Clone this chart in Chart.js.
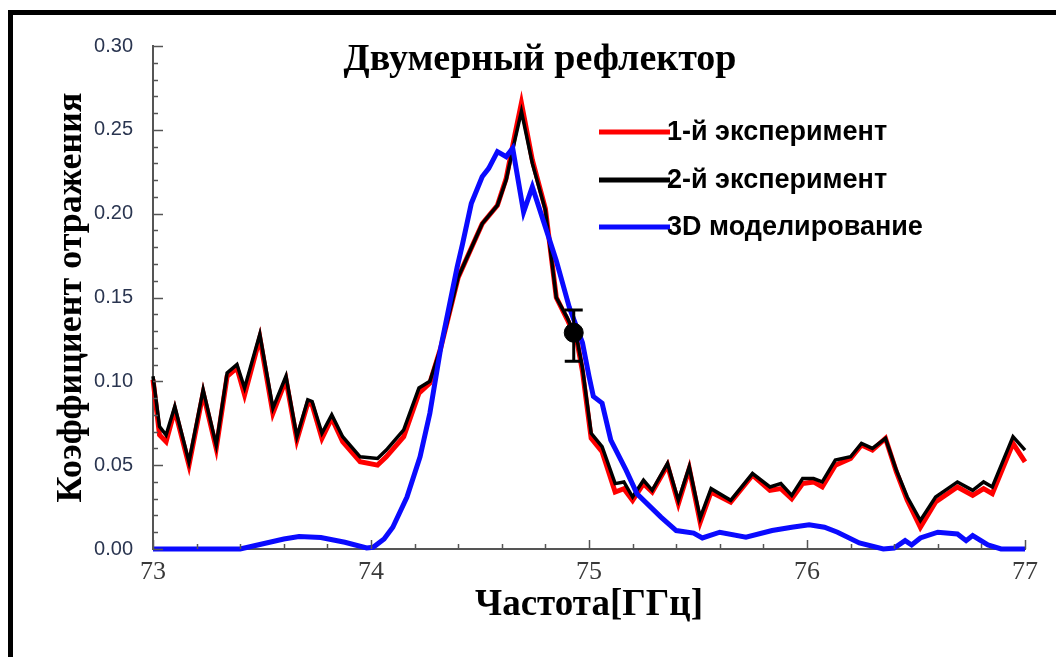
<!DOCTYPE html>
<html>
<head>
<meta charset="utf-8">
<script src="https://cdn.jsdelivr.net/npm/chart.js@4.4.1/dist/chart.umd.min.js"></script>
<style>
    html, body { margin: 0; padding: 0; background: #fff; overflow: hidden; }
    #wrap { position: relative; width: 1056px; height: 657px; overflow: hidden; }
    #wrap canvas { position: absolute; left: 0; top: 0; }
    #frame {
        position: absolute; left: 8px; top: 10px; width: 1100px; height: 700px;
        border: 5px solid #000; box-sizing: border-box; pointer-events: none;
    }
</style>
</head>
<body>
<div id="wrap">
    <canvas id="reflector-chart" width="1056" height="657"></canvas>
    <div id="frame"></div>
</div>
<script>
// measured data, frequency in GHz
const expFreq = [73.00, 73.03, 73.06, 73.10, 73.165, 73.23, 73.29, 73.34, 73.385, 73.42,
    73.49, 73.55, 73.61, 73.66, 73.71, 73.73, 73.775, 73.82, 73.87, 73.95,
    74.03, 74.07, 74.15, 74.22, 74.27, 74.32, 74.40, 74.51, 74.58, 74.62,
    74.66, 74.69, 74.74, 74.80, 74.85, 74.90, 74.945, 74.97, 75.01, 75.06,
    75.12, 75.16, 75.20, 75.25, 75.29, 75.36, 75.41, 75.46, 75.51, 75.56,
    75.65, 75.75, 75.83, 75.88, 75.93, 75.98, 76.03, 76.07, 76.13, 76.20,
    76.25, 76.30, 76.36, 76.41, 76.46, 76.52, 76.59, 76.69, 76.76, 76.81,
    76.85, 76.945, 77.00];

const exp1Refl = [0.101, 0.068, 0.064, 0.083, 0.050, 0.093, 0.060, 0.103, 0.108, 0.092,
    0.126, 0.081, 0.101, 0.065, 0.087, 0.086, 0.066, 0.078, 0.064, 0.052,
    0.050, 0.055, 0.067, 0.093, 0.099, 0.120, 0.162, 0.194, 0.205, 0.221,
    0.247, 0.266, 0.232, 0.203, 0.150, 0.137, 0.124, 0.106, 0.066, 0.058,
    0.034, 0.036, 0.029, 0.039, 0.034, 0.050, 0.027, 0.048, 0.016, 0.034,
    0.028, 0.044, 0.035, 0.036, 0.030, 0.039, 0.040, 0.037, 0.050, 0.054,
    0.062, 0.059, 0.066, 0.046, 0.029, 0.013, 0.028, 0.037, 0.032, 0.036,
    0.033, 0.063, 0.052];

const exp2Refl = [0.103, 0.073, 0.068, 0.085, 0.052, 0.095, 0.062, 0.105, 0.110, 0.096,
    0.128, 0.084, 0.103, 0.067, 0.089, 0.088, 0.069, 0.080, 0.067, 0.055,
    0.054, 0.059, 0.071, 0.096, 0.100, 0.120, 0.162, 0.194, 0.205, 0.220,
    0.244, 0.261, 0.230, 0.202, 0.150, 0.138, 0.125, 0.108, 0.069, 0.061,
    0.039, 0.040, 0.031, 0.041, 0.035, 0.051, 0.029, 0.049, 0.0185, 0.036,
    0.029, 0.045, 0.037, 0.039, 0.032, 0.042, 0.042, 0.040, 0.053, 0.055,
    0.063, 0.060, 0.066, 0.047, 0.031, 0.017, 0.031, 0.040, 0.035, 0.040,
    0.037, 0.067, 0.059];

const simFreq = [73.00, 73.40, 73.50, 73.60, 73.67, 73.77, 73.88, 73.98, 74.01, 74.06,
    74.10, 74.165, 74.225, 74.27, 74.32, 74.395, 74.42, 74.46, 74.51, 74.54,
    74.58, 74.62, 74.65, 74.70, 74.74, 74.79, 74.85, 74.91, 74.97, 75.00,
    75.02, 75.06, 75.10, 75.17, 75.22, 75.33, 75.40, 75.48, 75.52, 75.60,
    75.72, 75.84, 75.93, 76.01, 76.08, 76.14, 76.24, 76.35, 76.40, 76.45,
    76.48, 76.52, 76.60, 76.69, 76.73, 76.76, 76.83, 76.89, 77.00];

const simRefl = [0.000, 0.000, 0.003, 0.006, 0.0075, 0.0068, 0.004, 0.0006, 0.001, 0.006,
    0.013, 0.031, 0.055, 0.081, 0.120, 0.168, 0.182, 0.206, 0.222, 0.227,
    0.237, 0.234, 0.239, 0.201, 0.216, 0.196, 0.172, 0.144, 0.123, 0.103,
    0.091, 0.087, 0.065, 0.047, 0.033, 0.019, 0.011, 0.0095, 0.0066, 0.010,
    0.007, 0.011, 0.013, 0.0145, 0.013, 0.010, 0.0036, 0.000, 0.0006, 0.005,
    0.0024, 0.0066, 0.010, 0.009, 0.005, 0.008, 0.0024, 0.000, 0.000];

const markFreq = [74.93];
const markRefl = [0.129];
const markLow = [0.112];
const markHigh = [0.1425];

const freqTicks = [73, 74, 75, 76, 77];
const reflTicks = [0.00, 0.05, 0.10, 0.15, 0.20, 0.25, 0.30];
const seriesLabels = ['1-й эксперимент', '2-й эксперимент', '3D моделирование'];

const toPoints = (xs, ys) => xs.map((x, i) => ({ x, y: ys[i] }));

// inward minor/major ticks on both axes
const innerTicks = {
    id: 'innerTicks',
    afterDraw(chart) {
        const { ctx, chartArea, scales } = chart;
        ctx.save();
        ctx.strokeStyle = '#555';
        ctx.lineWidth = 1.5;
        for (let i = 0; i <= 30; i++) {
            const y = Math.round(scales.y.getPixelForValue(i / 100)) + 0.5;
            const len = i % 5 === 0 ? 10 : 5;
            ctx.beginPath();
            ctx.moveTo(chartArea.left, y);
            ctx.lineTo(chartArea.left + len, y);
            ctx.stroke();
        }
        for (let i = 0; i <= 20; i++) {
            const x = Math.round(scales.x.getPixelForValue(73 + i * 0.2)) + 0.5;
            const len = i % 5 === 0 ? 9 : 5;
            ctx.beginPath();
            ctx.moveTo(x, chartArea.bottom);
            ctx.lineTo(x, chartArea.bottom - len);
            ctx.stroke();
        }
        ctx.restore();
    }
};

const errorBar = {
    id: 'errorBar',
    afterDatasetsDraw(chart) {
        const { ctx, scales } = chart;
        ctx.save();
        ctx.strokeStyle = '#000';
        ctx.lineWidth = 3;
        markFreq.forEach((f, i) => {
            const x = scales.x.getPixelForValue(f);
            const yTop = scales.y.getPixelForValue(markHigh[i]);
            const yBot = scales.y.getPixelForValue(markLow[i]);
            ctx.beginPath();
            ctx.moveTo(x, yTop); ctx.lineTo(x, yBot);
            ctx.moveTo(x - 9, yTop); ctx.lineTo(x + 9, yTop);
            ctx.moveTo(x - 9, yBot); ctx.lineTo(x + 9, yBot);
            ctx.stroke();
        });
        ctx.restore();
    }
};

const headerAndLegend = {
    id: 'headerAndLegend',
    afterDraw(chart) {
        const { ctx } = chart;
        ctx.save();
        ctx.fillStyle = '#000';
        ctx.textAlign = 'center';
        ctx.textBaseline = 'middle';
        ctx.font = 'bold 38px "Liberation Serif"';
        ctx.fillText('Двумерный рефлектор', 540, 60);

        const rows = [132, 180, 227];
        ctx.textAlign = 'left';
        ctx.font = 'bold 27px "Liberation Sans"';
        seriesLabels.forEach((label, i) => {
            const ds = chart.data.datasets[i];
            ctx.strokeStyle = ds.borderColor;
            ctx.lineWidth = 5;
            ctx.beginPath();
            ctx.moveTo(599, rows[i]);
            ctx.lineTo(670, rows[i]);
            ctx.stroke();
            ctx.fillStyle = '#000';
            ctx.fillText(label, 667, rows[i] + 1);
        });
        ctx.restore();
    }
};

new Chart(document.getElementById('reflector-chart'), {
    type: 'scatter',
    data: {
        datasets: [
            {
                label: seriesLabels[0],
                data: toPoints(expFreq, exp1Refl),
                showLine: true,
                borderColor: '#ff0000',
                borderWidth: 5,
                pointRadius: 0,
                order: 3,
                clip: 6
            },
            {
                label: seriesLabels[1],
                data: toPoints(expFreq, exp2Refl),
                showLine: true,
                borderColor: '#000000',
                borderWidth: 3.5,
                pointRadius: 0,
                order: 2,
                clip: 6
            },
            {
                label: seriesLabels[2],
                data: toPoints(simFreq, simRefl),
                showLine: true,
                borderColor: '#0a0aff',
                borderWidth: 5,
                pointRadius: 0,
                order: 1,
                clip: 6
            },
            {
                label: 'marker',
                data: toPoints(markFreq, markRefl),
                pointRadius: 9.5,
                pointBackgroundColor: '#000',
                pointBorderColor: '#000',
                order: 0
            }
        ]
    },
    options: {
        responsive: false,
        animation: false,
        layout: { padding: { left: 0, top: 46, right: 31, bottom: 0 } },
        plugins: {
            legend: { display: false },
            tooltip: { enabled: false }
        },
        scales: {
            x: {
                type: 'linear',
                min: 73,
                max: 77,
                afterBuildTicks: s => { s.ticks = freqTicks.map(v => ({ value: v })); },
                afterFit: s => { s.height = 108; },
                grid: { drawOnChartArea: false, drawTicks: false },
                border: { color: '#555', width: 2 },
                ticks: {
                    padding: 8,
                    color: '#3a3a3a',
                    font: { family: 'Liberation Serif', size: 26 },
                    callback: v => String(v)
                },
                title: {
                    display: true,
                    text: 'Частота[ГГц]',
                    color: '#000',
                    font: { family: 'Liberation Serif', size: 37, weight: 'bold' },
                    padding: { top: 0, bottom: 29 }
                }
            },
            y: {
                min: 0,
                max: 0.30,
                afterBuildTicks: s => { s.ticks = reflTicks.map(v => ({ value: v })); },
                afterFit: s => { s.width = 153; },
                grid: { drawOnChartArea: false, drawTicks: false },
                border: { color: '#555', width: 2 },
                ticks: {
                    padding: 20,
                    color: '#2a3550',
                    font: { family: 'Liberation Sans', size: 20 },
                    callback: v => v.toFixed(2)
                },
                title: {
                    display: true,
                    text: 'Коэффициент отражения',
                    color: '#000',
                    font: { family: 'Liberation Serif', size: 36, weight: 'bold' },
                    padding: { top: 50, bottom: 0 }
                }
            }
        }
    },
    plugins: [innerTicks, errorBar, headerAndLegend]
});
</script>
</body>
</html>
